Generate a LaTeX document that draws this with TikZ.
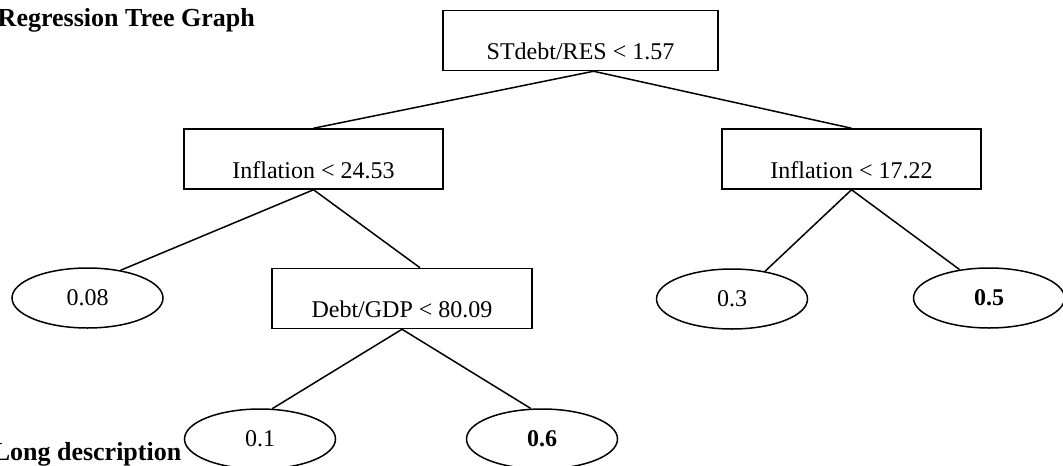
\documentclass[tikz,border=0pt]{standalone}
\usepackage{fontspec}
\setmainfont{Liberation Serif}
\usetikzlibrary{shapes.geometric}
\begin{document}
\begin{tikzpicture}[x=0.5pt, y=-0.5pt, line width=0.75pt,
    splitbox/.style={draw, rectangle, inner sep=0pt, text height=24.5pt, text depth=5.5pt, font=\fontsize{12}{14}\selectfont},
    leaf/.style={draw, ellipse, inner sep=0pt, minimum width=75.5pt, minimum height=30pt, font=\fontsize{12}{14}\selectfont},
    heading/.style={anchor=base west, inner sep=0pt, font=\fontsize{13}{15}\selectfont\bfseries}]
  \useasboundingbox (0,0) rectangle (1063,465);
  % headings
  \node[heading] (title) at (-3,27) {Regression Tree Graph};
  \node[heading] (desc) at (-8,460) {Long description};
  % splits
  \node[splitbox, minimum width=137.5pt] (root) at (580.5,40.5) {STdebt/RES < 1.57};
  \node[splitbox, minimum width=129.5pt] (infl) at (313.5,159) {Inflation < 24.53};
  \node[splitbox, minimum width=129.5pt] (infr) at (851.5,159) {Inflation < 17.22};
  \node[splitbox, minimum width=130pt] (debt) at (402,298.5) {Debt/GDP < 80.09};
  % leaves
  \node[leaf] (a) at (87.5,298) {0.08};
  \node[leaf] (b) at (260,439) {0.1};
  \node[leaf] (c) at (542,439) {\textbf{0.6}};
  \node[leaf] (d) at (732,299) {0.3};
  \node[leaf] (e) at (989,298) {\textbf{0.5}};
  % branches
  \draw ([xshift=6.5pt]root.south) -- (infl.north);
  \draw ([xshift=6.5pt]root.south) -- (infr.north);
  \draw (infl.south) -- (a.40);
  \draw (infl.south) -- ([xshift=9pt]debt.north);
  \draw (infr.south) -- (d.40);
  \draw (infr.south) -- (e.136);
  \draw (debt.south) -- (b.68);
  \draw (debt.south) -- (c.110);
\end{tikzpicture}
\end{document}
